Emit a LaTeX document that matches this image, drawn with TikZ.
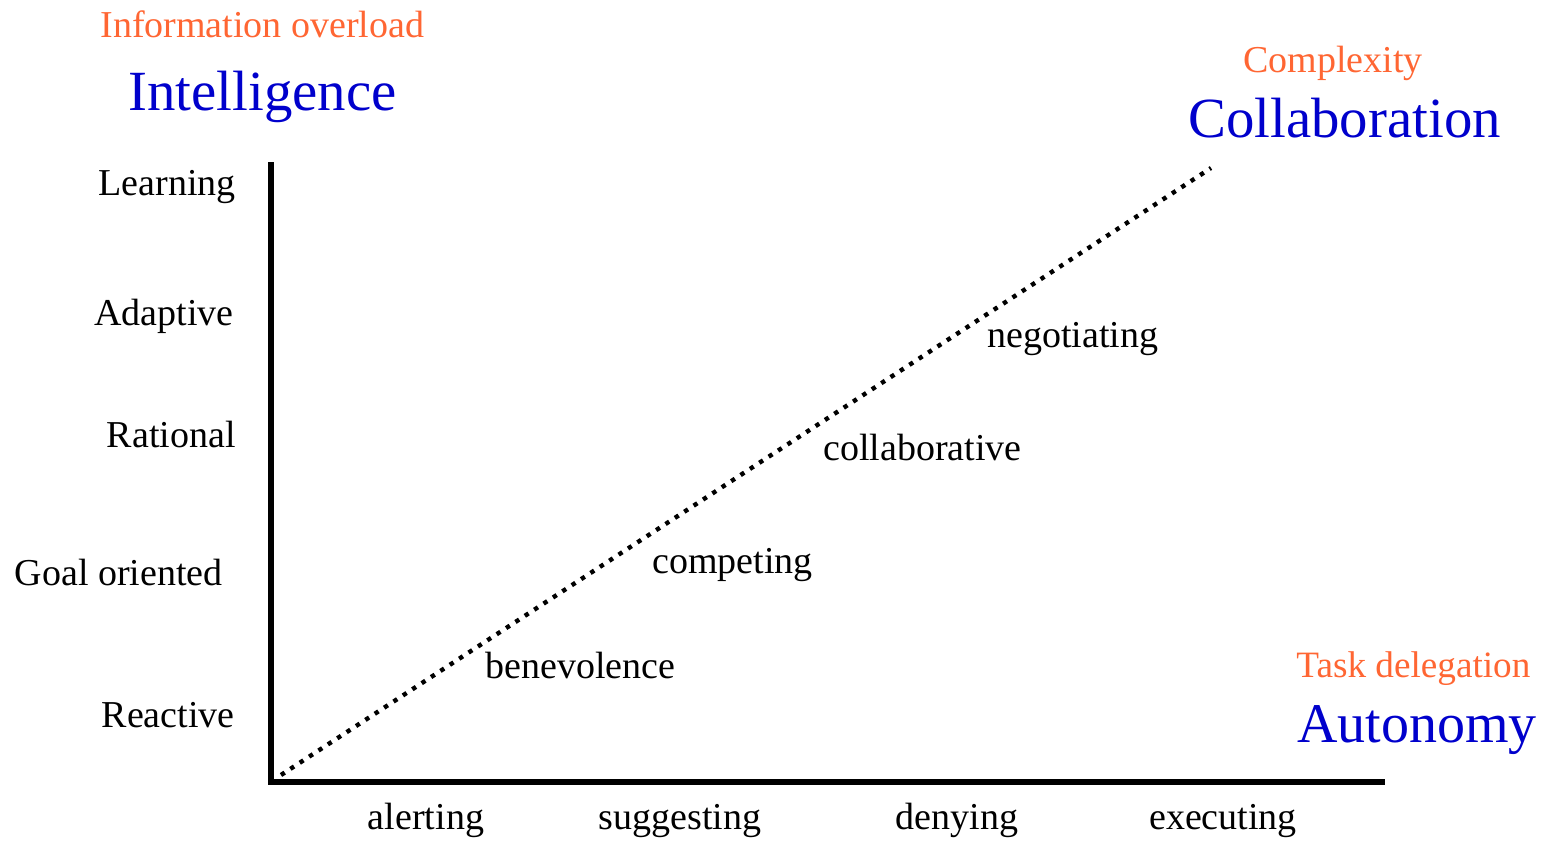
\documentclass[tikz,border=0pt]{standalone}
\usepackage{fontspec}
\setmainfont{Liberation Serif}
\usepackage{tikz}
\usetikzlibrary{calc, positioning}
\definecolor{driverorange}{HTML}{FF6633}
\definecolor{axisblue}{HTML}{0000CC}
\tikzstyle{level} = [anchor=base east, inner sep=0pt, font=\fontsize{19pt}{23pt}\selectfont]
\tikzstyle{action} = [anchor=base, inner sep=0pt, font=\fontsize{19pt}{23pt}\selectfont]
\tikzstyle{strategy} = [anchor=base west, inner sep=0pt, font=\fontsize{19pt}{23pt}\selectfont]
\tikzstyle{driver} = [anchor=base west, inner sep=0pt, text=driverorange, font=\fontsize{19pt}{23pt}\selectfont]
\tikzstyle{dimension} = [anchor=base west, inner sep=0pt, text=axisblue]
\tikzstyle{axis} = [line width=3pt, line join=miter]
\tikzstyle{trend} = [line width=2.2pt, dash pattern=on 2.2pt off 3.4pt]
\begin{document}
\begin{tikzpicture}[x=0.5pt, y=-0.5pt]
	\useasboundingbox (0,0) rectangle (1548,841);
	\coordinate (Origin) at (271,782);
	\coordinate (YTop) at (271,162);
	\coordinate (XEnd) at (1385,782);
	\coordinate (TrendStart) at (281,775);
	\coordinate (TrendEnd) at (1211,168);
	\draw [axis] (YTop) -- (Origin) -- (XEnd);
	\draw [trend] (TrendStart) -- (TrendEnd);
	\node (Overload) [driver] at (100,37) {Information overload};
	\node (Intelligence) [dimension, font=\fontsize{28.4pt}{34pt}\selectfont] at (128,110) {Intelligence};
	\node (Complexity) [driver] at (1243,72) {Complexity};
	\node (Collaboration) [dimension, font=\fontsize{28.4pt}{34pt}\selectfont] at (1188,137) {Collaboration};
	\node (Delegation) [driver, font=\fontsize{18.6pt}{22pt}\selectfont] at (1296,677) {Task delegation};
	\node (Autonomy) [dimension, font=\fontsize{28pt}{34pt}\selectfont] at (1297,742) {Autonomy};
	\node (Learning) [level] at (236,195) {Learning};
	\node (Adaptive) [level] at (234,325) {Adaptive};
	\node (Rational) [level] at (236,447) {Rational};
	\node (GoalOriented) [level] at (223,585) {Goal oriented};
	\node (Reactive) [level] at (235,727) {Reactive};
	\node (Alerting) [action] at (426,829) {alerting};
	\node (Suggesting) [action] at (680,829) {suggesting};
	\node (Denying) [action] at (957,829) {denying};
	\node (Executing) [action] at (1223,829) {executing};
	\node (Benevolence) [strategy] at (485,678) {benevolence};
	\node (Competing) [strategy] at (652,573) {competing};
	\node (Collaborative) [strategy] at (823,460) {collaborative};
	\node (Negotiating) [strategy] at (987,347) {negotiating};
\end{tikzpicture}
\end{document}
